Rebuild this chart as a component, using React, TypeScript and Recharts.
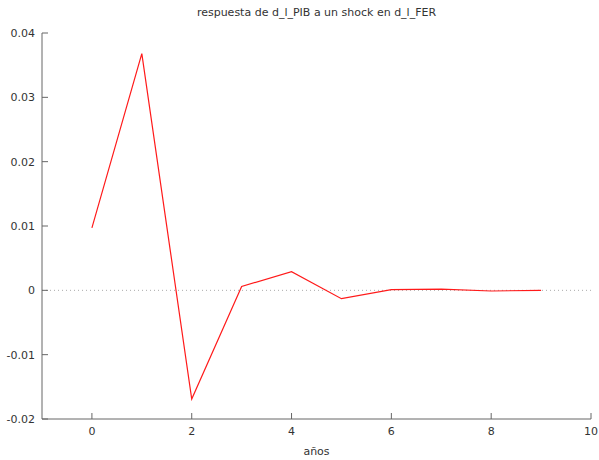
import { LineChart, Line, XAxis, YAxis, ReferenceLine } from "recharts";

// respuesta al impulso, periodos 0..9
const periods = [0, 1, 2, 3, 4, 5, 6, 7, 8, 9];
const response = [0.0097, 0.0368, -0.0169, 0.0006, 0.0029, -0.0013, 0.0001, 0.0002, -0.0001, 0.0];

const xTicks = [0, 2, 4, 6, 8, 10];
const yTicks = [-0.02, -0.01, 0, 0.01, 0.02, 0.03, 0.04];

const data = periods.map((p, i) => ({ x: p, y: response[i] }));

const font = "'DejaVu Sans', Verdana, sans-serif";
const tickStyle = { fontSize: 11, fill: "#333", fontFamily: font };

export default function App() {
  return (
    <div style={{ position: "absolute", left: 0, top: 0, width: 599, height: 460, background: "#fff" }}>
      <div
        style={{
          position: "absolute",
          left: 42,
          width: 549,
          top: 6,
          textAlign: "center",
          fontFamily: font,
          fontSize: 11,
          color: "#333",
        }}
      >
        respuesta de d_l_PIB a un shock en d_l_FER
      </div>
      <LineChart width={599} height={460} data={data} margin={{ top: 33, right: 8, bottom: 0, left: 0 }}>
        <XAxis
          xAxisId="bottom"
          dataKey="x"
          type="number"
          domain={[-1, 10]}
          ticks={xTicks}
          height={41}
          tickSize={-6}
          tickMargin={14}
          stroke="#666"
          tick={tickStyle}
          label={{ value: "años", position: "insideBottom", offset: 5, fontSize: 11, fill: "#333", fontFamily: font }}
        />
        <XAxis
          xAxisId="top"
          orientation="top"
          dataKey="x"
          type="number"
          domain={[-1, 10]}
          ticks={xTicks}
          height={0}
          tickSize={-6}
          tickFormatter={() => ""}
          stroke="#000"
        />
        <YAxis
          yAxisId="left"
          type="number"
          domain={[-0.02, 0.04]}
          ticks={yTicks}
          width={42}
          tickSize={-6}
          tickMargin={13}
          stroke="#666"
          tick={tickStyle}
          tickFormatter={(v: number) => String(v)}
        />
        <YAxis
          yAxisId="right"
          orientation="right"
          type="number"
          domain={[-0.02, 0.04]}
          ticks={yTicks}
          width={0}
          tickSize={-6}
          tickFormatter={() => ""}
          stroke="#666"
        />
        <ReferenceLine xAxisId="bottom" yAxisId="left" y={0} stroke="#aaa" strokeDasharray="1 3" />
        <Line
          xAxisId="bottom"
          yAxisId="left"
          type="linear"
          dataKey="y"
          stroke="#ff1a1a"
          strokeWidth={1.2}
          dot={false}
          isAnimationActive={false}
        />
      </LineChart>
    </div>
  );
}
